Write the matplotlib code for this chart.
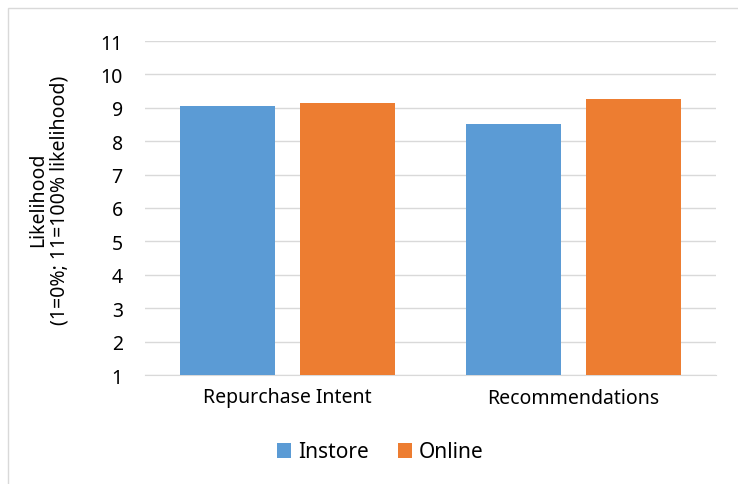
import matplotlib.pyplot as plt
import numpy as np
from matplotlib.patches import Rectangle

categories = ['Repurchase Intent', 'Recommendations']
instore = [9.05, 8.52]
online = [9.14, 9.26]
series_names = ['Instore', 'Online']
yticks = list(range(1, 12))

plt.rcParams['font.family'] = ['Noto Sans', 'DejaVu Sans']
fs = 14

fig = plt.figure(figsize=(7.38, 4.85), dpi=100)
ax = fig.add_axes([145 / 738, 1 - 376 / 485, 571 / 738, 334 / 485])

x = np.arange(len(categories))
w = 0.333
off = 0.21
# bars start from the axis floor at 1
ax.bar(x - off, np.array(instore) - 1, w, bottom=1, color='#5b9bd5', label=series_names[0], zorder=3)
ax.bar(x + off, np.array(online) - 1, w, bottom=1, color='#ed7d31', label=series_names[1], zorder=3)

ax.set_xlim(-0.5, 1.5)
ax.set_ylim(1, 11)
ax.set_yticks(yticks)
ax.set_xticks(x)
ax.set_xticklabels(categories)
ax.yaxis.grid(True, color='#d9d9d9', linewidth=1, zorder=0)
ax.tick_params(axis='both', length=0, labelsize=fs, colors='black')
ax.tick_params(axis='y', pad=16)
ax.tick_params(axis='x', pad=9)
for side in ['left', 'right', 'top']:
    ax.spines[side].set_visible(False)
ax.spines['bottom'].set_color('#d9d9d9')

ax.set_ylabel('Likelihood\n(1=0%; 11=100% likelihood)', fontsize=fs, linespacing=1.1)
ax.yaxis.set_label_coords(70 / 738, 1 - 200 / 485, transform=fig.transFigure)

ax.legend(loc='center', bbox_to_anchor=(380 / 738, 1 - 453 / 485), bbox_transform=fig.transFigure,
          ncol=2, frameon=False, fontsize=fs + 1, handlelength=0.7, handleheight=0.7,
          handletextpad=0.3, columnspacing=1.4)

# outer chart border
fig.patches.append(Rectangle((8 / 738, -0.01), 1.0, 1 - 9 / 485 + 0.01, transform=fig.transFigure,
                             fill=False, edgecolor='#d9d9d9', linewidth=1))

fig.savefig('out.png', dpi=100)
